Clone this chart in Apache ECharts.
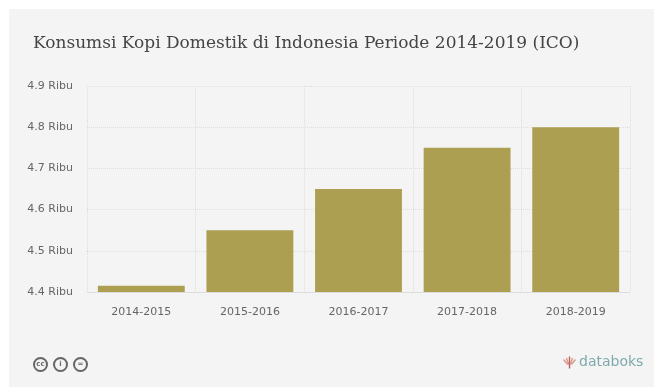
<!DOCTYPE html>
<html>
<head>
<meta charset="utf-8">
<style>html,body{margin:0;padding:0;background:#fff}#chart{width:654px;height:387px}</style>
<script src="https://cdn.jsdelivr.net/npm/echarts@6/dist/echarts.min.js"></script>
</head>
<body>
<div id="chart"></div>
<script>
// Domestic coffee consumption per season, in thousands of units (ICO)
const titleText = 'Konsumsi Kopi Domestik di Indonesia Periode 2014-2019 (ICO)';
const seasons = ['2014-2015', '2015-2016', '2016-2017', '2017-2018', '2018-2019'];
const consumption = [4415, 4550, 4650, 4750, 4800];
const axisMin = 4400;
const axisMax = 4900;
const axisStep = 100;
const brand = 'databoks';
const licenceMarks = ['cc', 'i', '='];

const chart = echarts.init(document.getElementById('chart'), null, { renderer: 'canvas' });

// Creative Commons style badges in the footer
const badgeElements = licenceMarks.map((mark, i) => ({
  type: 'group',
  left: 33 + i * 20,
  top: 357,
  children: [
    { type: 'circle', shape: { cx: 8, cy: 8, r: 6.5 },
      style: { fill: '#f4f4f4', stroke: '#666', lineWidth: 2 } },
    { type: 'text', style: { x: 8, y: 8, text: mark, fill: '#666', align: 'center',
      verticalAlign: 'middle', font: 'bold 7px "DejaVu Sans"' } }
  ]
}));

chart.setOption({
  animation: false,
  backgroundColor: '#ffffff',
  title: {
    text: titleText,
    left: 28,
    top: 30,
    textStyle: { fontFamily: '"DejaVu Serif"', fontWeight: 'normal', fontSize: 17, color: '#444444' }
  },
  grid: { left: 87, right: 24, top: 86, bottom: 95 },
  xAxis: {
    type: 'category',
    data: seasons,
    axisLine: { lineStyle: { color: '#dddddd' } },
    axisTick: { show: false },
    axisLabel: { color: '#666666', fontFamily: '"DejaVu Sans"', fontSize: 11, margin: 15 },
    splitLine: { show: true, lineStyle: { color: '#dedede', type: 'dotted' } }
  },
  yAxis: {
    type: 'value',
    min: axisMin,
    max: axisMax,
    interval: axisStep,
    axisLine: { show: false },
    axisTick: { show: false },
    axisLabel: {
      color: '#666666',
      fontFamily: '"DejaVu Sans"',
      fontSize: 11,
      margin: 14,
      formatter: v => (v / 1000).toFixed(1) + ' Ribu'
    },
    splitLine: { lineStyle: { color: '#dedede', type: 'dotted' } }
  },
  series: [{
    type: 'bar',
    data: consumption,
    barCategoryGap: '20%',
    itemStyle: { color: '#ad9f52' }
  }],
  graphic: [
    { type: 'rect', z: -10, shape: { x: 9, y: 9, width: 645, height: 378 }, style: { fill: '#f4f4f4' } },
    ...badgeElements,
    // Brand mark: a fan of short strokes beside the wordmark
    { type: 'group', left: 561, top: 354, children: [-6, -3, 0, 3, 6].map((dx, i) => ({
      type: 'line',
      shape: { x1: 7 + dx, y1: 6 + Math.abs(dx) / 2, x2: 7 + dx * 0.3, y2: i === 2 ? 18 : 14 },
      style: { stroke: i === 2 ? '#c65b5b' : '#d69a8c', lineWidth: 1.4 }
    })) },
    { type: 'text', left: 579, top: 355, style: { text: brand, fill: '#7fa9ad',
      font: '14px "DejaVu Sans"' } }
  ]
});
</script>
</body>
</html>
